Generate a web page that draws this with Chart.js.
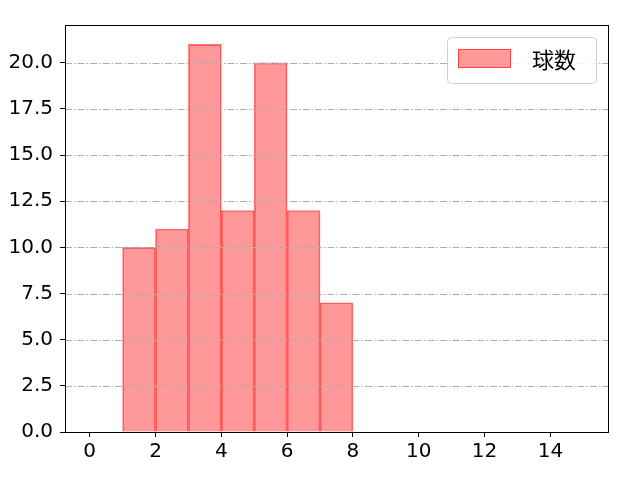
<!DOCTYPE html>
<html><head><meta charset="utf-8">
<script src="https://cdn.jsdelivr.net/npm/chart.js@4"></script>
<style>html,body{margin:0;padding:0;background:#fff}</style>
</head><body>
<canvas id="c" width="640" height="480"></canvas>
<script>
const binCenters = [1.5, 2.5, 3.5, 4.5, 5.5, 6.5, 7.5];
const counts = [10, 11, 21, 12, 20, 12, 7];
const seriesLabel = '球数';
const xTicks = [0, 2, 4, 6, 8, 10, 12, 14];
const yTicks = [0, 2.5, 5, 7.5, 10, 12.5, 15, 17.5, 20];

const FONT = '"Noto Sans CJK JP", "Noto Sans", sans-serif';
const TICKFONT = '"DejaVu Sans", "Noto Sans CJK JP", sans-serif';
const FILL = 'rgba(255,0,0,0.4)';
const EDGE = 'rgba(255,0,0,0.55)';

const overlay = {
  id: 'overlay',
  afterDatasetsDraw(chart) {
    const ctx = chart.ctx, a = chart.chartArea, y = chart.scales.y;
    ctx.save();
    // grid on top of bars
    ctx.strokeStyle = '#b0b0b0';
    ctx.lineWidth = 1;
    ctx.setLineDash([7, 2, 1.5, 2]);
    yTicks.forEach(v => {
      const py = Math.round(y.getPixelForValue(v)) + 0.5;
      ctx.beginPath(); ctx.moveTo(a.left, py); ctx.lineTo(a.right, py); ctx.stroke();
    });
    ctx.setLineDash([]);
    // frame
    ctx.strokeStyle = '#000';
    ctx.lineWidth = 1;
    ctx.strokeRect(Math.round(a.left) + 0.5, Math.round(a.top) + 0.5,
                   Math.round(a.right - a.left), Math.round(a.bottom - a.top));
    // legend
    const lx = a.right - 161, ly = a.top + 12, lw = 149, lh = 46, r = 4;
    ctx.fillStyle = 'rgba(255,255,255,0.85)';
    ctx.strokeStyle = '#d0d0d0';
    ctx.beginPath();
    ctx.roundRect(lx + 0.5, ly + 0.5, lw, lh, r);
    ctx.fill(); ctx.stroke();
    ctx.fillStyle = FILL;
    ctx.fillRect(lx + 11, ly + 12, 53, 19);
    ctx.strokeStyle = EDGE;
    ctx.strokeRect(lx + 11.5, ly + 12.5, 52, 18);
    ctx.fillStyle = '#000';
    ctx.font = '22px ' + FONT;
    ctx.textBaseline = 'middle';
    ctx.textAlign = 'left';
    ctx.fillText(chart.data.datasets[0].label, lx + 85, ly + 23);
    ctx.restore();
  }
};

new Chart(document.getElementById('c'), {
  type: 'bar',
  data: {
    datasets: [{
      label: seriesLabel,
      data: binCenters.map((x, i) => ({ x: x, y: counts[i] })),
      backgroundColor: FILL,
      borderColor: EDGE,
      borderWidth: 1,
      barPercentage: 1,
      categoryPercentage: 1,
      grouped: false
    }]
  },
  options: {
    responsive: false,
    animation: false,
    devicePixelRatio: 1,
    layout: { padding: { top: 25, right: 32, left: 0, bottom: 0 } },
    plugins: { legend: { display: false }, tooltip: { enabled: false } },
    scales: {
      x: {
        type: 'linear',
        min: -0.75, max: 15.75,
        offset: false,
        afterBuildTicks: s => { s.ticks = xTicks.map(v => ({ value: v })); },
        afterFit: s => { s.height = 48; },
        border: { display: false },
        grid: { display: true, offset: false, drawOnChartArea: false, drawTicks: true, tickLength: 5, tickColor: '#000', tickWidth: 1 },
        ticks: { color: '#000', font: { family: TICKFONT, size: 20 }, padding: 3, maxRotation: 0, autoSkip: false }
      },
      y: {
        type: 'linear',
        min: 0, max: 22.05,
        afterBuildTicks: s => { s.ticks = yTicks.map(v => ({ value: v })); },
        afterFit: s => { s.width = 65; },
        border: { display: false },
        grid: { display: true, drawOnChartArea: false, drawTicks: true, tickLength: 5, tickColor: '#000', tickWidth: 1 },
        ticks: { color: '#000', font: { family: TICKFONT, size: 20 }, padding: 7, callback: v => Number(v).toFixed(1), autoSkip: false }
      }
    }
  },
  plugins: [overlay]
});
</script>
</body></html>
